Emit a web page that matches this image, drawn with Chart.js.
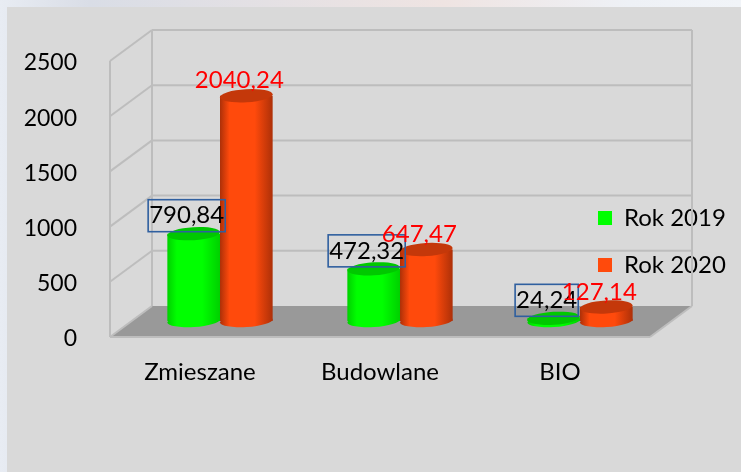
<!DOCTYPE html>
<html><head><meta charset="utf-8">
<script src="https://cdn.jsdelivr.net/npm/chart.js@4"></script>
<style>
html,body{margin:0;padding:0;width:741px;height:472px;overflow:hidden;
background:linear-gradient(90deg,#e8ecf3 0,#d9dde6 12%,#efe4e2 60%,#eef1f6 85%,#f1f4f8 100%);}
#panel{position:absolute;left:7px;top:7px;width:734px;height:465px;background:#d9d9d9;}
canvas{position:absolute;left:0;top:0;}
</style></head><body>
<div id="panel"></div>
<canvas id="c" width="741" height="472"></canvas>
<script>
const categories = ['Zmieszane','Budowlane','BIO'];
const rok2019 = [790.84, 472.32, 24.24];
const rok2020 = [2040.24, 647.47, 127.14];
const labels2019 = ['790,84','472,32','24,24'];
const labels2020 = ['2040,24','647,47','127,14'];
const yTicks = [0,500,1000,1500,2000,2500];

const FONT = 'Lato, Carlito, sans-serif';
const DEPTH_X = 42, DEPTH_Y = 31;      // 3D wall depth
const WALL_DY = -2;                    // box sits slightly above the tick label baseline
const BAR_DX = 20, BAR_DY = -18;       // bars stand mid-floor
const GRID = '#bdbdbd';
const looks = [
  {edge:'#00d000', mid:'#00ff00', top:'#00c800', text:'#000000', boxed:true,  labels:labels2019},
  {edge:'#ad3008', mid:'#ff4a0c', top:'#c4380a', text:'#ff0000', boxed:false, labels:labels2020}
];

function line(ctx,x1,y1,x2,y2){ctx.beginPath();ctx.moveTo(x1,y1);ctx.lineTo(x2,y2);ctx.stroke();}

const scene = {
  id:'scene',
  afterLayout(chart){
    const l = chart.legend;
    l.left = 575; l.right = 741; l.top = 183; l.bottom = 472;
  },
  beforeDatasetsDraw(chart){
    const {ctx,scales:{x,y}} = chart;
    const L = x.left, R = x.right, y0 = y.getPixelForValue(0)+WALL_DY;
    ctx.save();
    ctx.fillStyle = '#999999';
    ctx.beginPath();
    ctx.moveTo(L,y0);ctx.lineTo(R,y0);ctx.lineTo(R+DEPTH_X,y0-DEPTH_Y);ctx.lineTo(L+DEPTH_X,y0-DEPTH_Y);
    ctx.closePath();ctx.fill();
    ctx.strokeStyle = GRID; ctx.lineWidth = 2;
    yTicks.forEach(v=>{
      const p = y.getPixelForValue(v)+WALL_DY;
      line(ctx,L,p,L+DEPTH_X,p-DEPTH_Y);
      if(v>0) line(ctx,L+DEPTH_X,p-DEPTH_Y,R+DEPTH_X,p-DEPTH_Y);
    });
    const top = y.getPixelForValue(2500)+WALL_DY;
    line(ctx,L,top,L,y0);
    line(ctx,L+DEPTH_X,top-DEPTH_Y,L+DEPTH_X,y0-DEPTH_Y);
    line(ctx,R+DEPTH_X,top-DEPTH_Y,R+DEPTH_X,y0-DEPTH_Y);
    line(ctx,L,y0,R,y0);
    line(ctx,R,y0,R+DEPTH_X,y0-DEPTH_Y);
    ctx.restore();
  },
  beforeDatasetDraw(chart,{index,meta}){
    const ctx = chart.ctx, look = looks[index], y = chart.scales.y;
    ctx.save();
    ctx.translate(BAR_DX,BAR_DY);
    meta.data.forEach(bar=>{
      const rx = bar.width/2, g = ctx.createLinearGradient(bar.x-rx,0,bar.x+rx,0);
      g.addColorStop(0,look.edge);g.addColorStop(.18,look.mid);g.addColorStop(.66,look.mid);g.addColorStop(1,look.edge);
      bar.options = Object.assign({},bar.options,{backgroundColor:g,borderWidth:0});
      ctx.fillStyle = g;
      ctx.beginPath();
      ctx.ellipse(bar.x,y.getPixelForValue(0),rx,6,-0.06,0,Math.PI*2);
      ctx.fill();
    });
  },
  afterDatasetDraw(chart,{index,meta}){
    const ctx = chart.ctx, look = looks[index];
    meta.data.forEach(bar=>{
      ctx.fillStyle = look.top;
      ctx.beginPath();
      ctx.ellipse(bar.x,bar.y,bar.width/2,6.5,-0.06,0,Math.PI*2);
      ctx.fill();
    });
    ctx.restore();
  },
  afterDatasetsDraw(chart){
    const ctx = chart.ctx;
    ctx.save();
    ctx.font = '24px '+FONT;
    ctx.textAlign = 'center';ctx.textBaseline = 'middle';
    [0,1].forEach(i=>{
      const look = looks[i];
      chart.getDatasetMeta(i).data.forEach((bar,k)=>{
        const t = look.labels[k], cx = bar.x+BAR_DX-7, cy = bar.y+BAR_DY-(look.boxed?18:15);
        if(look.boxed){
          const w = ctx.measureText(t).width;
          ctx.strokeStyle = '#2f5f9f';ctx.lineWidth = 1.6;
          ctx.strokeRect(cx-w/2-1,cy-16,w+2,32);
        }
        ctx.fillStyle = look.text;
        ctx.fillText(t,cx,cy);
      });
    });
    ctx.restore();
  }
};

new Chart(document.getElementById('c'),{
  type:'bar',
  data:{labels:categories,datasets:[
    {label:'Rok 2019',data:rok2019,backgroundColor:'#00ff00',clip:false},
    {label:'Rok 2020',data:rok2020,backgroundColor:'#ff4a0c',clip:false}
  ]},
  plugins:[scene],
  options:{
    responsive:false,animation:false,
    layout:{padding:{left:0,top:63,right:91,bottom:0}},
    datasets:{bar:{categoryPercentage:.585,barPercentage:1,borderWidth:0}},
    plugins:{
      tooltip:{enabled:false},
      legend:{position:'chartArea',align:'start',
        labels:{boxWidth:14,boxHeight:14,padding:23,color:'#000',font:{family:FONT,size:24},
          generateLabels(chart){
            return chart.data.datasets.map((d,i)=>({text:d.label,fillStyle:d.backgroundColor,strokeStyle:d.backgroundColor,lineWidth:0,datasetIndex:i,fontColor:'#000'}));
          }}}
    },
    scales:{
      x:{grid:{display:false},border:{display:false},
        afterFit(s){s.height=133;},
        ticks:{color:'#000',padding:11,maxRotation:0,font:{family:FONT,size:24}}},
      y:{min:0,max:2500,grid:{display:false},border:{display:false},
        afterFit(s){s.width=110;},
        afterBuildTicks(s){s.ticks=yTicks.map(v=>({value:v}));},
        ticks:{color:'#000',padding:25,font:{family:FONT,size:23},callback:v=>String(v)}}
    }
  }
});
</script>
</body></html>
